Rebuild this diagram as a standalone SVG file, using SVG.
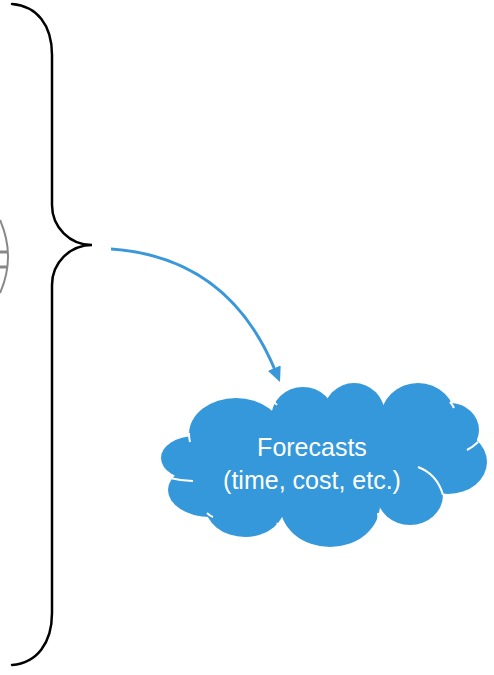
<svg xmlns="http://www.w3.org/2000/svg" width="494" height="675" viewBox="0 0 494 675">
<style>
.brace{fill:none;stroke:#000;stroke-width:2.5;stroke-linecap:round}
.globe{fill:none;stroke:#888;stroke-width:2}
.globeline{stroke:#888;stroke-width:3}
.conn{fill:none;stroke:#3A98DA;stroke-width:3}
.cloud{fill:#3598DB}
.inner{fill:none;stroke:#fff;stroke-width:2}
.label{fill:#fff;font-family:"Liberation Sans",Arial,sans-serif;font-size:25px;text-anchor:middle}
</style>
<defs>
<marker id="ah" markerUnits="userSpaceOnUse" markerWidth="16" markerHeight="14" refX="2" refY="7" orient="auto">
<path d="M0,0 L15,7 L0,14 z" fill="#3A98DA"/>
</marker>
</defs>
<g id="globe">
<path class="globe" d="M0,220 Q16,257 0,293"/>
<line class="globeline" x1="0" y1="252" x2="7" y2="252"/>
<line class="globeline" x1="0" y1="267" x2="7" y2="267"/>
</g>
<g id="brace">
<path class="brace" d="M12,4 C37,6 52,25 52,55 L52,205 A40,40 0 0 0 92,245 A40,40 0 0 0 52,285 L52,613 C52,643 37,663 12,665"/>
</g>
<g id="connectors">
<path class="conn" d="M111,249 Q228,257 275,370" marker-end="url(#ah)"/>
</g>
<g id="forecasts">
<g class="cloud">
<ellipse cx="236" cy="434" rx="47" ry="36"/>
<ellipse cx="303" cy="418" rx="32" ry="31"/>
<ellipse cx="354" cy="415" rx="31" ry="32"/>
<ellipse cx="418" cy="420" rx="38" ry="37"/>
<ellipse cx="450" cy="430" rx="29" ry="27"/>
<ellipse cx="448" cy="462" rx="39" ry="32"/>
<ellipse cx="410" cy="495" rx="33" ry="30"/>
<ellipse cx="330" cy="505" rx="50" ry="42"/>
<ellipse cx="245" cy="505" rx="40" ry="32"/>
<ellipse cx="210" cy="490" rx="42" ry="27"/>
<ellipse cx="195" cy="458" rx="34" ry="22"/>
<ellipse cx="320" cy="462" rx="125" ry="45"/>
</g>
<path class="inner" d="M268,398 Q273,400 277,405"/>
<path class="inner" d="M327,397 Q329,393 332,390"/>
<path class="inner" d="M380,395 Q381,393 383,392"/>
<path class="inner" d="M450,402 Q452,404 454,408"/>
<path class="inner" d="M467,450 Q473,447 478,442"/>
<path class="inner" d="M418,467 Q437,474 443,495"/>
<path class="inner" d="M378,513 Q379,518 378,523"/>
<path class="inner" d="M277,523 Q279,526 281,528"/>
<path class="inner" d="M207,513 Q210,516 213,517"/>
<path class="inner" d="M170,478 Q182,481 193,481"/>
<path class="inner" d="M189,433 Q189,438 190,442"/>
<text class="label" x="312" y="456">Forecasts</text>
<text class="label" x="312" y="489">(time, cost, etc.)</text>
</g>
</svg>
